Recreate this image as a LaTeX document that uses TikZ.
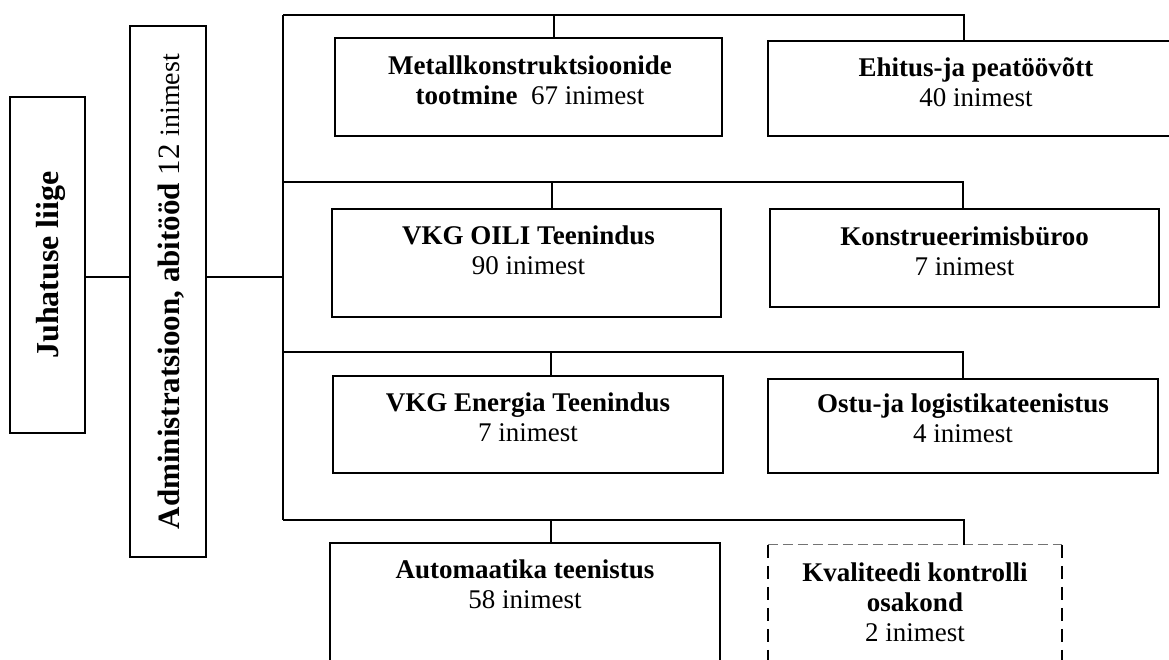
\documentclass[tikz,border=0pt]{standalone}
\usepackage{fontspec}
\setmainfont{Liberation Serif}
\begin{document}
\begin{tikzpicture}[x=1pt,y=1pt,
  box/.style={draw, line width=1.9pt, inner sep=0pt},
  conn/.style={line width=1.8pt},
  lbl/.style={align=center, inner sep=0pt, anchor=base, font=\fontsize{27}{30}\selectfont},
  vlbl/.style={rotate=90, inner sep=0pt},
  dashside/.style={line width=1.8pt, dash pattern=on 13pt off 8pt},
  dashtop/.style={line width=1.2pt, black!55, dash pattern=on 10pt off 5pt}]
\clip (0,0) rectangle (1169,-660);
\fill[white] (0,0) rectangle (1169,-660);

% left boxes
\node[box, minimum width=75pt, minimum height=336pt] (juh) at (47.5,-265) {};
\node[box, minimum width=76pt, minimum height=531pt] (adm) at (168,-291.5) {};
\node[vlbl, font=\fontsize{32}{36}\selectfont\bfseries] (juhT) at ([xshift=3pt]juh.center) {Juhatuse liige};
\node[vlbl] (admT) at ([xshift=3pt]adm.center) {\fontsize{31}{36}\selectfont\bfseries Administratsioon, abitööd \mdseries 12 \fontsize{28}{34}\selectfont inimest};

% department boxes
\node[box, minimum width=387pt, minimum height=98pt] (metall) at (528.5,-87) {};
\node[box, minimum width=416pt, minimum height=95pt] (ehitus) at (976,-88.5) {};
\node[box, minimum width=389pt, minimum height=108pt] (oili) at (526.5,-263) {};
\node[box, minimum width=389pt, minimum height=98pt] (konstr) at (964.5,-258) {};
\node[box, minimum width=390pt, minimum height=97pt] (energia) at (528,-424.5) {};
\node[box, minimum width=390pt, minimum height=94pt] (ostu) at (963,-426) {};
\node[box, minimum width=390pt, minimum height=157pt] (auto) at (525,-621.5) {};
\node[inner sep=0pt, minimum width=294pt, minimum height=155pt] (kval) at (915,-622.5) {};
\draw[dashside] (kval.north west) -- (kval.south west);
\draw[dashside] (kval.north east) -- (kval.south east);
\draw[dashtop] (kval.north west) -- (kval.north east);

% labels (anchor = baseline of last line)
\node[lbl] (metallT) at ([xshift=1.5pt,yshift=-67pt]metall.north) {\textbf{Metallkonstruktsioonide}\\\textbf{tootmine}\ \ 67 inimest};
\node[lbl] (ehitusT) at ([yshift=-66pt]ehitus.north) {\textbf{Ehitus-ja peatöövõtt}\\40 inimest};
\node[lbl] (oiliT) at ([xshift=2pt,yshift=-66pt]oili.north) {\textbf{VKG OILI Teenindus}\\90 inimest};
\node[lbl] (konstrT) at ([yshift=-67pt]konstr.north) {\textbf{Konstrueerimisbüroo}\\7 inimest};
\node[lbl] (energiaT) at ([yshift=-66pt]energia.north) {\textbf{VKG Energia Teenindus}\\7 inimest};
\node[lbl] (ostuT) at ([yshift=-64pt]ostu.north) {\textbf{Ostu-ja logistikateenistus}\\4 inimest};
\node[lbl] (autoT) at ([yshift=-66pt]auto.north) {\textbf{Automaatika teenistus}\\58 inimest};
\node[lbl] (kvalT) at ([yshift=-97pt]kval.north) {\textbf{Kvaliteedi kontrolli}\\\textbf{osakond}\\2 inimest};

% connectors
\coordinate (j) at (0,-277);
\coordinate (r1) at (283,-15);
\coordinate (r2) at (283,-182);
\coordinate (r3) at (283,-352);
\coordinate (r4) at (283,-520);
\coordinate (e1) at (964,-15);
\coordinate (e2) at (963,-182);
\coordinate (e3) at (963,-352);
\coordinate (e4) at (964,-520);
\coordinate (m1) at (554,-15);
\coordinate (m2) at (552,-182);
\coordinate (m3) at (551,-352);
\coordinate (m4) at (551,-520);

\draw[conn] (juh.east |- j) -- (adm.west |- j);
\draw[conn] (adm.east |- j) -- (r1 |- j);
\draw[conn] (r1) -- (r4);
\draw[conn] (r1) -- (e1) -- (e1 |- ehitus.north);
\draw[conn] (r2) -- (e2) -- (e2 |- konstr.north);
\draw[conn] (r3) -- (e3) -- (e3 |- ostu.north);
\draw[conn] (r4) -- (e4) -- (e4 |- kval.north);
\draw[conn] (m1) -- (m1 |- metall.north);
\draw[conn] (m2) -- (m2 |- oili.north);
\draw[conn] (m3) -- (m3 |- energia.north);
\draw[conn] (m4) -- (m4 |- auto.north);
\end{tikzpicture}
\end{document}
